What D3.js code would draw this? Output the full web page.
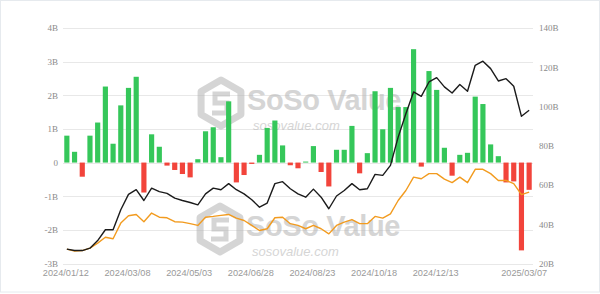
<!DOCTYPE html>
<html><head><meta charset="utf-8">
<script src="https://cdn.jsdelivr.net/npm/d3@7"></script>
<style>html,body{margin:0;padding:0;background:#fff;}svg{display:block;}</style>
</head><body>
<svg id="c" width="600" height="294"></svg>
<script>
// Weekly net flow (B USD), bars, left axis
const netFlow = [0.80,0.32,-0.42,0.80,1.19,2.26,0.56,1.70,2.22,2.55,
  -0.89,0.84,0.47,-0.09,-0.22,-0.34,-0.44,0.10,0.93,1.05,
  0.16,1.82,-0.59,-0.37,-0.04,0.23,1.03,1.25,0.51,-0.08,
  -0.17,0.03,0.49,-0.28,-0.71,0.38,0.38,1.09,-0.32,0.28,
  2.12,0.99,2.22,1.65,1.65,3.37,-0.12,2.72,2.16,0.44,
  -0.39,0.23,0.29,1.96,1.74,0.54,0.19,-0.59,-0.56,-2.61,-0.81];
// Black line (B USD), right axis
const blackLine = [27.3,26.6,26.6,27.8,31.7,37.2,37.2,47.4,55.2,57.6,
  52.1,58.4,56.6,55.7,53.3,52.1,51.1,49.9,55.5,58.4,
  57.6,60.7,57.6,55.5,52.5,48.7,50.8,60.7,61.7,58.1,
  55.5,53.8,57.9,53.8,47.9,54.4,57.2,60.7,57.6,58.1,
  65.4,64.9,70.0,84.4,96.3,107.4,105.2,112.5,114.7,110.0,
  106.9,111.2,107.8,121.0,123.1,119.3,113.0,114.2,110.3,95.0,98.1];
// Orange line (B USD), right axis
const orangeLine = [27.3,26.3,26.6,27.8,30.4,33.4,32.6,40.6,44.3,45.0,
  41.3,45.7,43.6,43.3,41.3,41.1,40.3,39.4,43.6,44.0,
  44.5,45.0,43.1,41.9,39.4,36.8,37.7,43.3,43.6,40.3,
  39.4,37.7,39.4,37.7,35.1,39.4,41.1,42.4,40.3,40.3,
  44.0,43.1,45.3,52.1,57.2,64.0,63.2,65.8,65.8,63.0,
  61.2,64.0,61.2,68.0,68.0,65.8,62.3,62.3,60.7,55.1,56.4];
const leftTicks = [-3,-2,-1,0,1,2,3,4];
const leftTickLabels = ["-3B","-2B","-1B","0","1B","2B","3B","4B"];
const rightTicks = [20,40,60,80,100,120,140];
const rightTickLabels = ["20B","40B","60B","80B","100B","120B","140B"];
const xTickLabels = ["2024/01/12","2024/03/08","2024/05/03","2024/06/28","2024/08/23","2024/10/18","2024/12/13","2025/03/07"];

const fmt = d3.timeFormat("%Y/%m/%d");
const start = new Date(2024,0,12);
const dates = netFlow.map((_, i) => fmt(d3.timeDay.offset(start, 7*i)));

const svg = d3.select("#c");
svg.append("rect").attr("x",0.5).attr("y",0.5).attr("width",599).attr("height",291.5)
  .attr("fill","#fff").attr("stroke","#e6eaee");

const x = d3.scaleBand().domain(dates).range([63, 533]).paddingInner(0.33).paddingOuter(0.165);
const yL = d3.scaleLinear().domain([-3,4]).range([263.5, 28]);
const yR = d3.scaleLinear().domain([20,140]).range([263.5, 28]);

// gridlines
svg.append("g").selectAll("line").data(leftTicks).join("line")
  .attr("x1",63).attr("x2",533).attr("y1",d=>Math.round(yL(d))+0.5).attr("y2",d=>Math.round(yL(d))+0.5)
  .attr("stroke","#e8e8e8").attr("stroke-width",1);

// left axis labels
const gL = svg.append("g").attr("transform","translate(58,0)")
  .call(d3.axisLeft(yL).tickValues(leftTicks).tickSize(0).tickPadding(0).tickFormat((d,i)=>leftTickLabels[i]));
gL.select(".domain").remove();
gL.selectAll("text").attr("font-family","'Liberation Serif', serif").attr("font-size",9).attr("fill","#8a8a8a");

// right axis labels
const gR = svg.append("g").attr("transform","translate(539,0)")
  .call(d3.axisRight(yR).tickValues(rightTicks).tickSize(0).tickPadding(0).tickFormat((d,i)=>rightTickLabels[i]));
gR.select(".domain").remove();
gR.selectAll("text").attr("font-family","'Liberation Serif', serif").attr("font-size",9).attr("fill","#8a8a8a");

// x axis labels
const xIdx = [0,8,16,24,32,40,48,60];
const gX = svg.append("g").attr("transform","translate(0,269)")
  .call(d3.axisBottom(x).tickValues(xIdx.map(i=>dates[i])).tickSize(0).tickPadding(0)
    .tickFormat((d,i)=>xTickLabels[i]));
gX.select(".domain").remove();
gX.selectAll("text").attr("font-family","'Liberation Sans', Arial, sans-serif").attr("font-size",9.2).attr("fill","#999")
  .attr("dx",(d,i)=> i===xIdx.length-1 ? -5 : -1);

// watermarks (behind marks)
function watermark(tx, ty){
  const g = svg.append("g").attr("transform",`translate(${tx},${ty})`).attr("opacity",0.55);
  const c = "#b4b4b4";
  const r = 23;
  const hex = d3.range(6).map(k=>{const a=Math.PI/3*k - Math.PI/2; return [r*Math.cos(a), r*Math.sin(a)];});
  g.append("path").attr("d","M"+hex.join("L")+"Z").attr("fill","none").attr("stroke",c).attr("stroke-width",7).attr("stroke-linejoin","round");
  g.append("path").attr("d","M9,-9 L-6,-9 L-6,0 L6,0 L6,10 L-9,10").attr("fill","none").attr("stroke",c).attr("stroke-width",5);
  g.append("text").attr("x",26).attr("y",7).text("SoSo Value")
    .attr("font-family","'Liberation Sans', Arial, sans-serif").attr("font-weight","bold").attr("font-size",29)
    .attr("fill",c).attr("letter-spacing",-0.4);
  g.append("text").attr("x",32).attr("y",27).text("sosovalue.com")
    .attr("font-family","'Liberation Sans', Arial, sans-serif").attr("font-style","italic").attr("font-size",13)
    .attr("fill",c);
}
watermark(221, 103);
watermark(220, 229);

// bars
svg.append("g").selectAll("rect").data(netFlow).join("rect")
  .attr("x",(d,i)=>x(dates[i]))
  .attr("width",x.bandwidth())
  .attr("y",d=>d>=0? yL(d): yL(0))
  .attr("height",d=>Math.abs(yL(d)-yL(0)))
  .attr("fill",d=>d>=0?"#35c75a":"#f2443b");

const cx = i => x(dates[i]) + x.bandwidth()/2;
const lineR = d3.line().x((d,i)=>cx(i)).y(d=>yR(d));
svg.append("path").datum(orangeLine).attr("d",lineR).attr("fill","none")
  .attr("stroke","#f29b1f").attr("stroke-width",1.4).attr("stroke-linejoin","round");
svg.append("path").datum(blackLine).attr("d",lineR).attr("fill","none")
  .attr("stroke","#1b1b1b").attr("stroke-width",1.4).attr("stroke-linejoin","round");
</script>
</body></html>
